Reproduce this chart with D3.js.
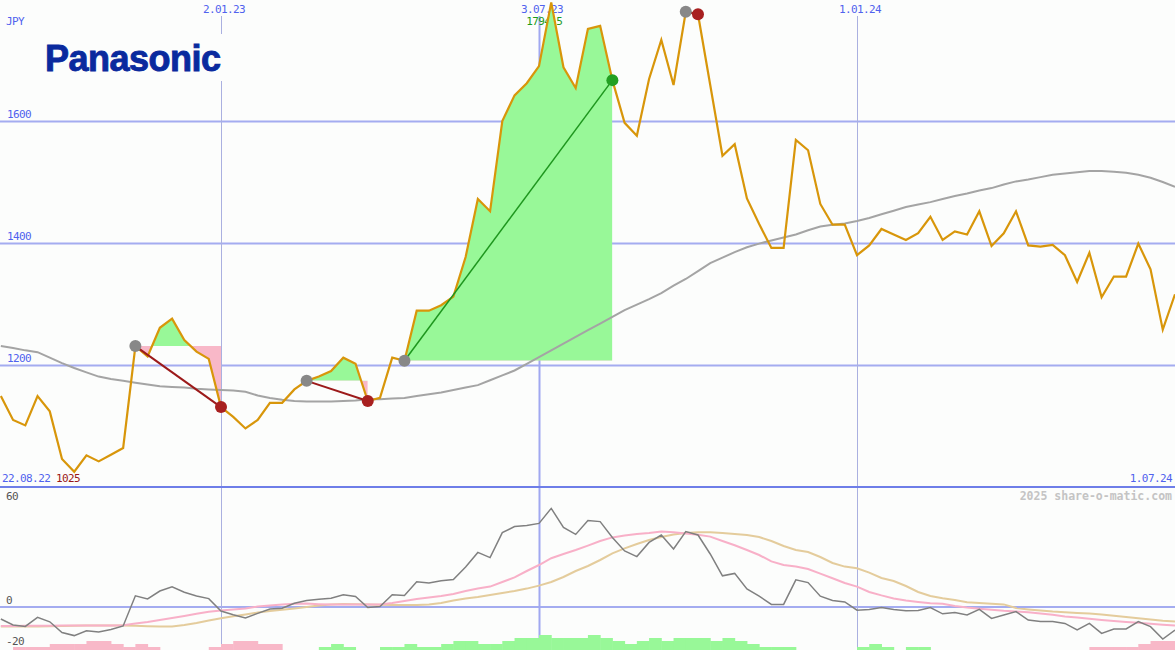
<!DOCTYPE html>
<html><head><meta charset="utf-8">
<script src="https://cdnjs.cloudflare.com/ajax/libs/d3/7.8.5/d3.min.js"></script>
<style>html,body{margin:0;padding:0;background:#fcfdfc;overflow:hidden}svg{display:block}</style>
</head><body><svg id="c" width="1175" height="650"></svg>
<script>
// ---------- data ----------
const firstWeek = "2022-08-29";
const closes = [1149,1110,1101,1149,1124,1046,1025,1052,1042,1053,
  1064,1231,1214,1261,1276,1241,1222,1210,1131,1115,
  1096,1110,1138,1138,1160,1174,1181,1190,1212,1202,
  1141,1146,1212,1207,1289,1289,1298,1312,1377,1472,
  1452,1600,1642,1662,1690,1794.5,1688,1654,1751,1756,
  1667,1597,1576,1669,1733,1659,1779,1775,1659,1543,
  1562,1473,1431,1392,1392,1569,1552,1464,1430,1430,
  1380,1396,1423,1414,1405,1416,1443,1405,1419,1414,
  1452,1395,1416,1452,1396,1394,1397,1380,1336,1384,
  1311,1345,1345,1399,1357,1258,1316];
const movingAvg = [1231,1228,1224,1221,1212,1203,1195,1188,1181,1177,
  1174,1171,1168,1165,1164,1163,1161,1160,1159,1158,
  1156,1150,1146,1143,1141,1140,1140,1140,1141,1142,
  1144,1144,1145,1146,1149,1152,1155,1159,1163,1167,
  1175,1183,1191,1202,1213,1224,1235,1246,1257,1268,
  1279,1290,1299,1308,1318,1330,1341,1354,1367,1376,
  1385,1393,1399,1404,1409,1414,1421,1427,1430,1432,
  1436,1441,1447,1453,1459,1463,1467,1472,1477,1481,
  1486,1490,1496,1501,1504,1508,1512,1514,1516,1518,
  1518,1517,1515,1512,1507,1500,1492];
const oscillator = [-6,-9,-9.7,-5.2,-7.4,-12.8,-14.3,-11.9,-12.5,-11.2,
  -9.5,5.6,4,8,10.1,7.4,5.5,4.2,-2,-3.9,
  -5.5,-3.2,-1,-0.6,1.9,3.3,3.9,4.4,6.1,5.3,
  -0.3,0.2,6.1,5.7,12.6,12,13.1,13.7,20,27.3,
  24.7,37.2,40.2,40.7,41.8,49.3,39.8,36.3,43.2,42.7,
  34.8,28,25.2,32.3,36,29,37.7,36,26.5,15.6,
  16.8,9,5.4,1.3,1.3,13.6,12.2,5.4,3.3,2.5,
  -1.6,-1.2,-0.2,-1.2,-1.9,-1.7,-0.3,-3.4,-2.8,-4,
  -1.2,-5.7,-4,-2.3,-6.5,-7.3,-7.3,-8.2,-11.5,-8.2,
  -13.2,-11,-11,-7.3,-9.8,-16,-11.5];
const oscFast = [-9.5,-9.5,-9.4,-9.4,-9.4,-9.3,-9.3,-9.3,-9.3,-9.3,
  -9.1,-8.3,-7.5,-6.5,-5.5,-4.5,-3.4,-2.4,-1.8,-1.3,
  -0.7,0.2,0.8,1.2,1.6,1.7,1.4,1.2,1.2,1.2,
  1.2,1.2,2,3,4,4.8,5.5,6.5,8,9.3,
  10.2,12.5,14.8,18,21,24.4,26.5,28.5,30.7,33,
  34.8,35.8,36.5,37,37.7,37.4,36.8,36.1,35.2,33,
  30.9,28.5,26,22.8,21,20.2,19,16.7,14.4,12,
  10.2,7.5,5.8,4.3,3.2,2.5,1.9,1.6,0.5,-0.3,
  -0.9,-1.4,-1.9,-2.2,-2.6,-3.2,-3.9,-4.7,-5.3,-5.9,
  -6.5,-7,-7.5,-7.9,-8.4,-8.9,-9.3];
const oscSlow = [-9.8,-9.8,-9.8,-9.7,-9.6,-9.5,-9.4,-9.3,-9.3,-9.3,
  -9.3,-9.4,-9.6,-9.8,-9.7,-9,-8,-6.8,-5.6,-4.6,
  -3.7,-2.8,-2,-1.4,-0.7,0,0.7,1.3,1.5,1.4,
  1.2,1.1,1,1,1,1.2,2,3.2,4.2,5,
  6,7,8,9.2,10.7,12.5,15,18,20.5,23.5,
  26.8,29.3,31.5,33.5,35,36.2,37,37.4,37.4,37,
  36.5,36,35,33,30.5,28.5,27.5,25,22,20.2,
  19.4,17.2,14.5,13,10.5,7.5,5.5,4.4,3.5,2.4,
  2,1.6,1.3,-0.5,-1.2,-1.8,-2.3,-2.6,-3,-3.3,
  -3.8,-4.4,-5,-5.6,-6.3,-6.9,-7.3];
const histogram = [0,-1,-1,-1,-2,-2,-2,-3,-3,-2,
  -1,-2,-1,0,0,0,0,-1,-2,-3,
  -3,-2,-2,0,0,0,1,2,1,0,
  0,1,1,2,1,1,2,3,3,2,
  2,3,4,4,5,4,4,4,5,4,
  3,2,3,4,3,4,4,4,3,4,
  3,2,1,1,1,0,0,0,0,0,
  1,2,1,0,1,1,0,0,0,0,
  0,0,0,0,0,0,0,0,0,-1,
  -1,-1,-1,-2,-3,-3,0];
const priceTicks = [1200,1400,1600];
const oscTicks = [60,0,-20];
const dateTickDates = ["2023-01-02","2023-07-03","2024-01-01"];
const dateTickLabels = ["2.01.23","3.07.23","1.01.24"];
const firstLabel = "22.08.22";
const lastLabel = "1.07.24";
const tradeEntries = [11,25,33,56];
const tradeExits = [18,30,50,57];
const currency = "JPY";
const company = "Panasonic";
const credit = "2025 share-o-matic.com";

// ---------- setup ----------
const W = 1175, H = 650;
const parse = d3.timeParse("%Y-%m-%d");
const d0 = parse(firstWeek);
const dates = closes.map((_, i) => d3.timeDay.offset(d0, 7 * i));
const x = d3.scaleTime().domain([parse("2023-01-02"), parse("2024-07-01")]).range([221, 1175]);
const y = d3.scaleLinear().domain([1000, 1600]).range([487, 121]);
const y2 = d3.scaleLinear().domain([-20, 60]).range([647, 487]);
const hy = d3.scaleLinear().domain([0, 5]).range([650, 635]);

const svg = d3.select("#c");
const defs = svg.append("defs");
const FONT = "'DejaVu Sans Mono', monospace";
const LBL = "#5062ee";
const GRID = "#a4acf0";
function lab(sel) {
  return sel.style("font-family", FONT).style("font-size", "11px").style("letter-spacing", "-0.6px");
}

svg.append("rect").attr("width", W).attr("height", H).attr("fill", "#fcfdfc");

// horizontal price grid via axis
const gy = svg.append("g").call(d3.axisRight(y).tickValues(priceTicks).tickSize(W).tickFormat(d => d));
gy.select(".domain").remove();
gy.selectAll(".tick line").attr("stroke", GRID).attr("stroke-width", 2);
lab(gy.selectAll(".tick text").attr("x", 7).attr("dy", -4).attr("text-anchor", "start").attr("fill", LBL));

// oscillator zero grid / labels
const go = svg.append("g").call(d3.axisRight(y2).tickValues(oscTicks).tickSize(0).tickFormat(d => d));
go.select(".domain").remove();
lab(go.selectAll(".tick text").attr("x", 6).attr("text-anchor", "start").attr("fill", "#555")
  .attr("dy", d => d === 60 ? 12 : (d === 0 ? -4 : -3)));
svg.append("line").attr("x1", 0).attr("x2", W).attr("y1", y2(0)).attr("y2", y2(0))
  .attr("stroke", GRID).attr("stroke-width", 2);

// vertical date grid
dateTickDates.forEach((ds, k) => {
  const xx = Math.round(x(parse(ds)));
  svg.append("line").attr("x1", xx + 0.5).attr("x2", xx + 0.5).attr("y1", 16).attr("y2", H)
    .attr("stroke", k === 1 ? "#a0a8f0" : "#aab0e0").attr("stroke-width", k === 1 ? 2 : 1);
  lab(svg.append("text").attr("x", xx + 3).attr("y", 13).attr("text-anchor", "middle")
    .attr("fill", LBL)).text(dateTickLabels[k]);
});

// logo
svg.append("rect").attr("x", 40).attr("y", 34).attr("width", 186).attr("height", 47).attr("fill", "#fcfdfc");
svg.append("text").attr("x", 45).attr("y", 71).attr("fill", "#0a2a9e").attr("stroke", "#0a2a9e").attr("stroke-width", 0.9)
  .style("font-family", "'Liberation Sans', Arial, sans-serif").style("font-weight", "bold")
  .style("font-size", "36px").style("letter-spacing", "-0.5px").text(company);
lab(svg.append("text").attr("x", 6).attr("y", 25).attr("fill", LBL)).text(currency);

// max label
const maxI = d3.maxIndex(closes), minI = d3.minIndex(closes);
lab(svg.append("text").attr("x", x(dates[maxI]) - 7).attr("y", 25).attr("text-anchor", "middle")
  .attr("fill", "#1a9a1a")).text(closes[maxI]);

// corner labels
lab(svg.append("text").attr("x", 2).attr("y", 482).attr("fill", LBL)).text(firstLabel);
lab(svg.append("text").attr("x", 56).attr("y", 482).attr("fill", "#9a1818")).text(closes[minI]);
lab(svg.append("text").attr("x", 1172).attr("y", 482).attr("text-anchor", "end").attr("fill", LBL)).text(lastLabel);
svg.append("text").attr("x", 1172).attr("y", 500).attr("text-anchor", "end").attr("fill", "#c4c4c4")
  .style("font-family", FONT).style("font-size", "11.5px").style("font-weight", "bold").text(credit);

// trade fills
tradeEntries.forEach((a, k) => {
  const b = tradeExits[k];
  const idx = d3.range(a, b + 1);
  const ye = y(closes[a]);
  const xa = x(dates[a]), xb = x(dates[b]);
  defs.append("clipPath").attr("id", "up" + k).append("rect")
    .attr("x", xa).attr("y", 0).attr("width", xb - xa).attr("height", ye);
  defs.append("clipPath").attr("id", "dn" + k).append("rect")
    .attr("x", xa).attr("y", ye).attr("width", xb - xa).attr("height", 487 - ye);
  const ar = d3.area().x(i => x(dates[i])).y0(ye).y1(i => y(closes[i]));
  svg.append("path").datum(idx).attr("d", ar).attr("fill", "#98f898").attr("clip-path", `url(#up${k})`);
  svg.append("path").datum(idx).attr("d", ar).attr("fill", "#f8b8c8").attr("clip-path", `url(#dn${k})`);
});

// moving average
svg.append("path").datum(movingAvg).attr("fill", "none").attr("stroke", "#a4a4a4").attr("stroke-width", 2)
  .attr("d", d3.line().x((d, i) => x(dates[i])).y(d => y(d)));
// price
svg.append("path").datum(closes).attr("fill", "none").attr("stroke", "#d8960a").attr("stroke-width", 2.2)
  .attr("stroke-linejoin", "miter")
  .attr("d", d3.line().x((d, i) => x(dates[i])).y(d => y(d)));

// trade lines & dots
tradeEntries.forEach((a, k) => {
  const b = tradeExits[k];
  const win = closes[b] > closes[a];
  svg.append("line").attr("x1", x(dates[a])).attr("y1", y(closes[a])).attr("x2", x(dates[b])).attr("y2", y(closes[b]))
    .attr("stroke", win ? "#1e961e" : "#9c1a1a").attr("stroke-width", win ? 1.5 : 2);
});
tradeEntries.forEach((a, k) => {
  const b = tradeExits[k];
  const win = closes[b] > closes[a];
  svg.append("circle").attr("cx", x(dates[a])).attr("cy", y(closes[a])).attr("r", 6).attr("fill", "#888");
  svg.append("circle").attr("cx", x(dates[b])).attr("cy", y(closes[b])).attr("r", 6).attr("fill", win ? "#22a022" : "#a82020");
});

// separator
svg.append("line").attr("x1", 0).attr("x2", W).attr("y1", 487).attr("y2", 487).attr("stroke", "#6e7ee8").attr("stroke-width", 2);

// histogram
svg.append("g").selectAll("rect").data(histogram.map((v, i) => ({v, i})).filter(d => d.v !== 0)).join("rect")
  .attr("x", d => x(dates[d.i]))
  .attr("width", d => x(d3.timeDay.offset(dates[d.i], 7)) - x(dates[d.i]) + 0.5)
  .attr("y", d => hy(Math.abs(d.v)))
  .attr("height", d => hy(0) - hy(Math.abs(d.v)))
  .attr("fill", d => d.v > 0 ? "#98f898" : "#f8b8c8");

// oscillator lines
const l2 = d3.line().x((d, i) => x(dates[i])).y(d => y2(d));
svg.append("path").datum(oscSlow).attr("fill", "none").attr("stroke", "#e4cc9c").attr("stroke-width", 2).attr("d", l2);
svg.append("path").datum(oscFast).attr("fill", "none").attr("stroke", "#f8b0c8").attr("stroke-width", 2).attr("d", l2);
svg.append("path").datum(oscillator).attr("fill", "none").attr("stroke", "#808080").attr("stroke-width", 1.5).attr("d", l2);
</script></body></html>
